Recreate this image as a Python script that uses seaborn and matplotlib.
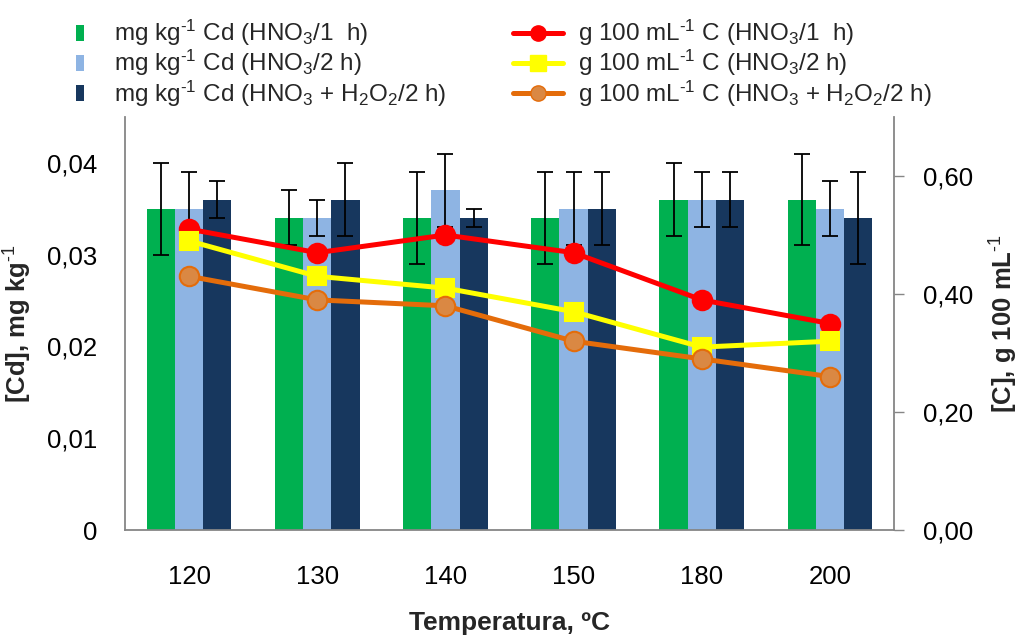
import numpy as np
import pandas as pd
import matplotlib
matplotlib.use("Agg")
import matplotlib.pyplot as plt
from matplotlib.lines import Line2D
from matplotlib.path import Path
from matplotlib.ticker import FuncFormatter
import seaborn as sns

# ---- data -------------------------------------------------------------
temperatures = ["120", "130", "140", "150", "180", "200"]

cd_series = [
    r"mg kg$^{\text{-1}}$ Cd (HNO$_3$/1  h)",
    r"mg kg$^{\text{-1}}$ Cd (HNO$_3$/2 h)",
    r"mg kg$^{\text{-1}}$ Cd (HNO$_3$ + H$_2$O$_2$/2 h)",
]
cd_hno3_1h = [0.035, 0.034, 0.034, 0.034, 0.036, 0.036]
cd_hno3_2h = [0.035, 0.034, 0.037, 0.035, 0.036, 0.035]
cd_h2o2_2h = [0.036, 0.036, 0.034, 0.035, 0.036, 0.034]
cd_err_hno3_1h = [0.005, 0.003, 0.005, 0.005, 0.004, 0.005]
cd_err_hno3_2h = [0.004, 0.002, 0.004, 0.004, 0.003, 0.003]
cd_err_h2o2_2h = [0.002, 0.004, 0.001, 0.004, 0.003, 0.005]

c_series = [
    r"g 100 mL$^{\text{-1}}$ C (HNO$_3$/1  h)",
    r"g 100 mL$^{\text{-1}}$ C (HNO$_3$/2 h)",
    r"g 100 mL$^{\text{-1}}$ C (HNO$_3$ + H$_2$O$_2$/2 h)",
]
c_hno3_1h = [0.51, 0.47, 0.50, 0.47, 0.39, 0.35]
c_hno3_2h = [0.49, 0.43, 0.41, 0.37, 0.31, 0.32]
c_h2o2_2h = [0.43, 0.39, 0.38, 0.32, 0.29, 0.26]

left_ticks = [0, 0.01, 0.02, 0.03, 0.04]
right_ticks = [0.0, 0.2, 0.4, 0.6]

# ---- style ------------------------------------------------------------
bar_colors = ["#00B050", "#8EB4E3", "#17375E"]
line_colors = ["#FF0000", "#FFFF00", "#E46C0A"]
marker_faces = ["#FF0000", "#FFFF00", "#DA8843"]
marker_shapes = ["o", "s", "o"]
axis_grey = "#868686"

sns.set_theme(style="white")
plt.rcParams["font.family"] = ["Liberation Sans", "DejaVu Sans"]
plt.rcParams["mathtext.fontset"] = "custom"
plt.rcParams["mathtext.rm"] = "Liberation Sans"
plt.rcParams["mathtext.it"] = "Liberation Sans:italic"
plt.rcParams["mathtext.bf"] = "Liberation Sans:bold"

fig = plt.figure(figsize=(10.27, 6.35), dpi=100)
ax = fig.add_axes([125 / 1027, 1 - 530 / 635, (894 - 125) / 1027, (530 - 117) / 635])

# ---- bars (primary axis) ---------------------------------------------
bars_df = pd.DataFrame({
    "temp": temperatures * 3,
    "series": np.repeat(cd_series, len(temperatures)),
    "value": cd_hno3_1h + cd_hno3_2h + cd_h2o2_2h,
})
sns.barplot(data=bars_df, x="temp", y="value", hue="series", order=temperatures,
            hue_order=cd_series, palette=bar_colors, width=0.66, errorbar=None,
            linewidth=0, saturation=1, legend=False, ax=ax)

errors = [cd_err_hno3_1h, cd_err_hno3_2h, cd_err_h2o2_2h]
values = [cd_hno3_1h, cd_hno3_2h, cd_h2o2_2h]
for container, vals, errs in zip(ax.containers, values, errors):
    xs = [p.get_x() + p.get_width() / 2 for p in container.patches]
    ax.errorbar(xs, vals, yerr=errs, fmt="none", ecolor="black", elinewidth=1.3,
                capsize=6, capthick=1.3, zorder=3)

ax.set_ylim(0, 0.045)
ax.set_xlim(-0.5, len(temperatures) - 0.5)
ax.set_yticks(left_ticks)
ax.yaxis.set_major_formatter(FuncFormatter(
    lambda v, _: "0" if v == 0 else f"{v:.2f}".replace(".", ",")))
ax.tick_params(axis="y", length=0, pad=20, labelsize=18.5, colors="black")
ax.set_xticks(range(len(temperatures)))
ax.set_xticklabels(temperatures)
ax.set_xticks(np.arange(-0.5, len(temperatures)), minor=True)
ax.tick_params(axis="x", which="major", length=4, width=1, color=axis_grey,
               pad=21, labelsize=18.5, labelcolor="black")
ax.tick_params(axis="x", which="minor", length=7, width=1, color=axis_grey)
ax.set_xlabel("Temperatura, ºC", fontsize=19, fontweight="bold", labelpad=16)
ax.set_ylabel(r"[Cd], mg kg$\mathbf{^{\text{-1}}}$", fontsize=18.5, fontweight="bold",
              labelpad=9)

for side in ["left", "bottom", "right"]:
    ax.spines[side].set_color(axis_grey)
    ax.spines[side].set_linewidth(1.3)
ax.spines["top"].set_visible(False)

# ---- lines (secondary axis) ------------------------------------------
ax2 = ax.twinx()
positions = np.arange(len(temperatures))
for vals, col, face, mk in zip([c_hno3_1h, c_hno3_2h, c_h2o2_2h],
                               line_colors, marker_faces, marker_shapes):
    sns.lineplot(x=positions, y=vals, color=col, linewidth=3.6, marker=mk,
                 markersize=14 if mk == "o" else 13, markerfacecolor=face,
                 markeredgecolor=col, markeredgewidth=1.5, ax=ax2, zorder=5)

ax2.set_xlim(-0.5, len(temperatures) - 0.5)
ax2.set_ylim(0, 0.70)
ax2.set_yticks(right_ticks)
ax2.yaxis.set_major_formatter(FuncFormatter(lambda v, _: f"{v:.2f}".replace(".", ",")))
ax2.tick_params(axis="y", length=7, width=1, color=axis_grey, pad=14,
                labelsize=18.5, labelcolor="black", right=True)
ax2.set_ylabel(r"[C], g 100 mL$\mathbf{^{\text{-1}}}$", fontsize=18.5,
               fontweight="bold", labelpad=10)
for side in ["left", "bottom", "right", "top"]:
    ax2.spines[side].set_visible(False)
ax2.grid(False)
ax.grid(False)

# ---- legends ------------------------------------------------------------
bar_marker = Path([(-0.55, -1), (0.55, -1), (0.55, 1), (-0.55, 1), (-0.55, -1)],
                  [Path.MOVETO, Path.LINETO, Path.LINETO, Path.LINETO, Path.CLOSEPOLY])
bar_handles = [Line2D([], [], linestyle="none", marker=bar_marker, markersize=11,
                      markerfacecolor=c, markeredgewidth=0) for c in bar_colors]
line_handles = [Line2D([], [], color=col, linewidth=3.6, marker=mk, markersize=11,
                       markerfacecolor=face, markeredgecolor=col)
                for col, face, mk in zip(line_colors, marker_faces, marker_shapes)]

leg_kw = dict(frameon=False, fontsize=17.5, loc="upper left", borderpad=0,
              borderaxespad=0, labelspacing=0.0, handletextpad=0.6)
leg1 = fig.legend(bar_handles, cd_series, bbox_to_anchor=(61 / 1027, 1 - 18 / 635),
                  handlelength=1.6, **leg_kw)
leg2 = fig.legend(line_handles, c_series, bbox_to_anchor=(513 / 1027, 1 - 18 / 635),
                  handlelength=2.06, **leg_kw)

fig.savefig("out.png", dpi=100)
